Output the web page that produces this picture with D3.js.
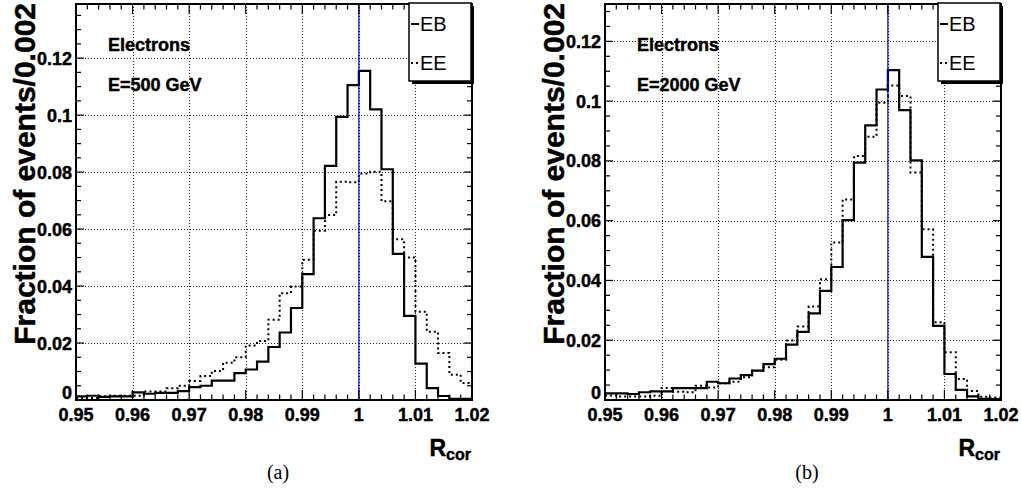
<!DOCTYPE html>
<html>
<head>
<meta charset="utf-8">
<script src="https://cdn.jsdelivr.net/npm/d3@7"></script>
<style>
body { margin: 0; background: #fff; }
text { font-family: "Liberation Sans", Arial, Helvetica, sans-serif; }
.b { font-weight: 700; stroke: #000; stroke-width: 0.45px; }
</style>
</head>
<body>
<div id="chart"></div>
<script>
// histogram range, 35 bins of 0.002
var xMin = 0.95, xMax = 1.02, binWidth = 0.002;
var xTickValues = [0.95, 0.96, 0.97, 0.98, 0.99, 1.0, 1.01, 1.02];
var xTickLabels = ["0.95", "0.96", "0.97", "0.98", "0.99", "1", "1.01", "1.02"];
var yTickValues = [0, 0.02, 0.04, 0.06, 0.08, 0.1, 0.12];
var yTickLabels = ["0", "0.02", "0.04", "0.06", "0.08", "0.1", "0.12"];

// (a) E = 500 GeV
var ebA = [0.0013, 0.0015, 0.0011, 0.0013, 0.0013, 0.0027, 0.0022, 0.0025, 0.0025, 0.0031,
           0.0045, 0.0050, 0.0068, 0.0068, 0.0094, 0.0107, 0.0135, 0.0186, 0.0237, 0.0323,
           0.0442, 0.0638, 0.0822, 0.0994, 0.1105, 0.1155, 0.1020, 0.0810, 0.0513, 0.0295,
           0.0128, 0.0042, 0.0014, 0.0004, 0.0004];
var eeA = [0.0007, 0.0007, 0.0013, 0.0015, 0.0015, 0.0015, 0.0030, 0.0030, 0.0041, 0.0050,
           0.0067, 0.0084, 0.0102, 0.0131, 0.0150, 0.0191, 0.0207, 0.0282, 0.0375, 0.0398,
           0.0492, 0.0594, 0.0649, 0.0766, 0.0764, 0.0795, 0.0801, 0.0698, 0.0564, 0.0500,
           0.0310, 0.0240, 0.0165, 0.0089, 0.0060];

// (b) E = 2000 GeV
var ebB = [0.0022, 0.0022, 0.0020, 0.0026, 0.0029, 0.0029, 0.0040, 0.0040, 0.0040, 0.0061,
           0.0056, 0.0072, 0.0083, 0.0098, 0.0120, 0.0138, 0.0185, 0.0228, 0.0290, 0.0365,
           0.0445, 0.0602, 0.0794, 0.0919, 0.1039, 0.1104, 0.0970, 0.0802, 0.0479, 0.0248,
           0.0087, 0.0034, 0.0012, 0.0004, 0.0003];
var eeB = [0.0015, 0.0012, 0.0012, 0.0012, 0.0014, 0.0040, 0.0028, 0.0026, 0.0048, 0.0042,
           0.0056, 0.0061, 0.0076, 0.0098, 0.0110, 0.0135, 0.0199, 0.0246, 0.0313, 0.0404,
           0.0527, 0.0671, 0.0816, 0.0881, 0.0995, 0.1052, 0.1017, 0.0761, 0.0571, 0.0260,
           0.0160, 0.0070, 0.0030, 0.0011, 0.0008];

var yMaxes = [0.139, 0.1325];
var energies = ["E=500 GeV", "E=2000 GeV"];
var captions = ["(a)", "(b)"];
var seriesNames = ["EB", "EE"];

var W = 1021, H = 489;
var frameLefts = [76, 605], frameW = 396, frameTop = 4, frameBottom = 400;

var svg = d3.select("#chart").append("svg")
    .attr("width", W)
    .attr("height", H);

svg.append("rect").attr("width", W).attr("height", H).attr("fill", "#fff");

function drawPanel(idx, eb, ee) {
    var left = frameLefts[idx], right = left + frameW;

    var x = d3.scaleLinear().domain([xMin, xMax]).range([left, right]);
    var y = d3.scaleLinear().domain([0, yMaxes[idx]]).range([frameBottom, frameTop]);

    var g = svg.append("g");

    // grid
    g.selectAll(".gx").data(xTickValues.slice(1, -1)).enter().append("line")
        .attr("x1", d => Math.round(x(d)) + 0.5).attr("x2", d => Math.round(x(d)) + 0.5)
        .attr("y1", frameTop).attr("y2", frameBottom)
        .attr("stroke", "#222").attr("stroke-width", 1)
        .attr("stroke-dasharray", "1,2");
    g.selectAll(".gy").data(yTickValues.slice(1)).enter().append("line")
        .attr("x1", left).attr("x2", right)
        .attr("y1", d => Math.round(y(d)) + 0.5).attr("y2", d => Math.round(y(d)) + 0.5)
        .attr("stroke", "#222").attr("stroke-width", 1)
        .attr("stroke-dasharray", "1,2");

    // histograms
    var edges = d3.range(eb.length + 1).map(i => xMin + i * binWidth);
    var stepLine = d3.line()
        .x(d => x(d[0]))
        .y(d => y(d[1]))
        .curve(d3.curveStepAfter);
    function pts(vals) {
        var p = vals.map((v, i) => [edges[i], v]);
        p.push([edges[vals.length], vals[vals.length - 1]]);
        return p;
    }
    g.append("path").attr("d", stepLine(pts(ee)))
        .attr("fill", "none").attr("stroke", "#000").attr("stroke-width", 2)
        .attr("stroke-dasharray", "2,3");
    g.append("path").attr("d", stepLine(pts(eb)))
        .attr("fill", "none").attr("stroke", "#000").attr("stroke-width", 2.2);

    // reference line at 1
    g.append("line")
        .attr("x1", x(1)).attr("x2", x(1))
        .attr("y1", frameTop).attr("y2", frameBottom)
        .attr("stroke", "#0000ff").attr("stroke-width", 1.2);

    // ticks: x major / minor on bottom and top
    var xMinor = d3.range(0, 36).map(i => xMin + i * binWidth);
    xMinor.forEach(function (v, i) {
        var len = (i % 5 === 0) ? 10 : 5.5;
        g.append("line").attr("x1", x(v)).attr("x2", x(v))
            .attr("y1", frameBottom).attr("y2", frameBottom - len)
            .attr("stroke", "#000").attr("stroke-width", 1.2);
        g.append("line").attr("x1", x(v)).attr("x2", x(v))
            .attr("y1", frameTop).attr("y2", frameTop + len)
            .attr("stroke", "#000").attr("stroke-width", 1.2);
    });
    // y ticks every 0.005, major every 0.02
    var yMinor = d3.range(0, Math.floor(yMaxes[idx] / 0.005) + 1).map(i => i * 0.005);
    yMinor.forEach(function (v, i) {
        var len = (i % 4 === 0) ? 8 : 5;
        g.append("line").attr("x1", left).attr("x2", left + len)
            .attr("y1", y(v)).attr("y2", y(v))
            .attr("stroke", "#000").attr("stroke-width", 1.2);
        g.append("line").attr("x1", right).attr("x2", right - len)
            .attr("y1", y(v)).attr("y2", y(v))
            .attr("stroke", "#000").attr("stroke-width", 1.2);
    });

    // frame
    g.append("rect")
        .attr("x", left).attr("y", frameTop)
        .attr("width", frameW).attr("height", frameBottom - frameTop)
        .attr("fill", "none").attr("stroke", "#000").attr("stroke-width", 2);

    // tick labels
    g.selectAll(".xl").data(xTickValues).enter().append("text")
        .attr("class", "b")
        .attr("x", d => x(d)).attr("y", 421)
        .attr("text-anchor", "middle")
        .attr("font-size", 18)
        .text((d, i) => xTickLabels[i]);
    g.selectAll(".yl").data(yTickValues).enter().append("text")
        .attr("class", "b")
        .attr("x", left - 4)
        .attr("y", d => d === 0 ? y(d) - 1 : y(d) + 6.5)
        .attr("text-anchor", "end")
        .attr("font-size", 18)
        .text((d, i) => yTickLabels[i]);

    // axis titles
    g.append("text")
        .attr("class", "b")
        .attr("transform", "translate(" + (left - 41) + "," + 3 + ") rotate(-90)")
        .attr("text-anchor", "end")
        .attr("font-size", 30)
        .text("Fraction of events/0.002");
    var xt = g.append("text")
        .attr("class", "b")
        .attr("x", right - 1).attr("y", 456)
        .attr("text-anchor", "end")
        .attr("font-size", 23);
    xt.append("tspan").text("R");
    xt.append("tspan").attr("font-size", 16).attr("dy", 4).text("cor");

    // labels
    g.append("text").attr("class", "b").attr("x", left + 32).attr("y", 51)
        .attr("font-size", 18).text("Electrons");
    g.append("text").attr("class", "b").attr("x", left + 32).attr("y", 91)
        .attr("font-size", 18).text(energies[idx]);

    // legend with shadow
    var lx = right - 63, ly = 3, lw = 62, lh = 78;
    g.append("rect").attr("x", lx + 3).attr("y", ly + 3)
        .attr("width", lw).attr("height", lh).attr("fill", "#000");
    g.append("rect").attr("x", lx).attr("y", ly)
        .attr("width", lw).attr("height", lh)
        .attr("fill", "#fff").attr("stroke", "#000").attr("stroke-width", 1.5);
    var rows = [24, 63];
    seriesNames.forEach(function (name, i) {
        g.append("line")
            .attr("x1", lx + 2).attr("x2", lx + 10)
            .attr("y1", rows[i]).attr("y2", rows[i])
            .attr("stroke", "#000").attr("stroke-width", 2)
            .attr("stroke-dasharray", i === 1 ? "2,3" : null);
        g.append("text").attr("x", lx + 11).attr("y", rows[i] + 7)
            .attr("font-size", 20).text(name);
    });

    // caption
    g.append("text")
        .attr("x", (left + right) / 2 + 4).attr("y", 479)
        .attr("text-anchor", "middle")
        .style("font-family", "'Liberation Serif', 'Times New Roman', serif")
        .attr("font-size", 20)
        .text(captions[idx]);
}

drawPanel(0, ebA, eeA);
drawPanel(1, ebB, eeB);
</script>
</body>
</html>
